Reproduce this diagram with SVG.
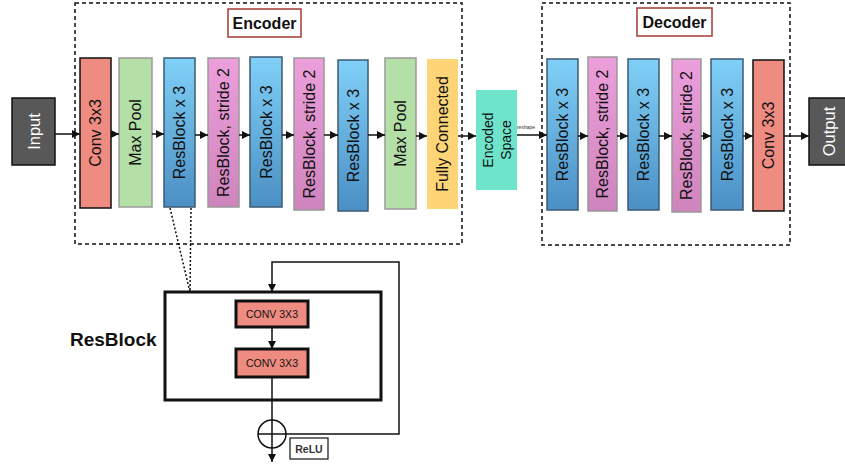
<svg xmlns="http://www.w3.org/2000/svg" width="845" height="467" viewBox="0 0 845 467">
<style>
text{font-family:"Liberation Sans",Arial,sans-serif;fill:#111}
.bt{font-size:16px;text-anchor:middle;dominant-baseline:central}
.wt{font-size:16.5px;text-anchor:middle;dominant-baseline:central;fill:#fff}
.dash{fill:none;stroke:#111;stroke-width:1.5;stroke-dasharray:4 3}
.lbl{fill:#fff;stroke:#a33a33;stroke-width:1.5}
.conv{fill:#ef8c82;stroke:#111;stroke-width:1.5}
.pool{fill:#b4dfa6;stroke:#9a9a9a;stroke-width:1.5}
.res{fill:url(#gb);stroke:#3d5a73;stroke-width:1.5}
.str{fill:url(#gp);stroke:#999;stroke-width:1.5}
.fc{fill:#fdd576}
.enc{fill:#6ee5cb}
.io{fill:#585858;stroke:#111;stroke-width:1.5}
.ln{fill:none;stroke:#111;stroke-width:1.5}
.dot{fill:none;stroke:#111;stroke-width:1.5;stroke-dasharray:2 2}
.rconv{fill:#ef8c82;stroke:#111;stroke-width:3}
</style>
<defs>
<linearGradient id="gb" x1="0" y1="0" x2="0" y2="1"><stop offset="0" stop-color="#80d0f8"/><stop offset="1" stop-color="#4b8fc4"/></linearGradient>
<linearGradient id="gp" x1="0" y1="0" x2="0" y2="1"><stop offset="0" stop-color="#ec9fdb"/><stop offset="1" stop-color="#d084bd"/></linearGradient>
<marker id="ah" markerUnits="userSpaceOnUse" markerWidth="9" markerHeight="9" refX="8" refY="4.5" orient="auto"><path d="M0,0.5 L8,4.5 L0,8.5 z" fill="#111"/></marker>
</defs>

<g id="encoder-frame">
<rect class="dash" x="75" y="3" width="387" height="241"/>
<rect class="lbl" x="228" y="9" width="73" height="28"/>
<text x="264.5" y="23" style="font-size:16px;font-weight:bold;text-anchor:middle;dominant-baseline:central">Encoder</text>
</g>
<g id="decoder-frame">
<rect class="dash" x="542" y="3" width="248" height="242"/>
<rect class="lbl" x="637" y="8" width="75" height="28"/>
<text x="674.5" y="22" style="font-size:16px;font-weight:bold;text-anchor:middle;dominant-baseline:central">Decoder</text>
</g>

<g id="input"><rect class="io" x="12" y="98" width="43" height="67"/><text class="wt" transform="translate(33.5,131.5) rotate(-90)">Input</text></g>
<g id="e-conv"><rect class="conv" x="80" y="58" width="31" height="150"/><text class="bt" transform="translate(95.5,133) rotate(-90)">Conv 3x3</text></g>
<g id="e-pool1"><rect class="pool" x="119" y="58" width="33" height="149"/><text class="bt" transform="translate(135.5,132.5) rotate(-90)">Max Pool</text></g>
<g id="e-res1"><rect class="res" x="164" y="58" width="31" height="149"/><text class="bt" transform="translate(179.5,132.5) rotate(-90)">ResBlock x 3</text></g>
<g id="e-str1"><rect class="str" x="208" y="58" width="31" height="149"/><text class="bt" transform="translate(223.5,132.5) rotate(-90)">ResBlock, stride 2</text></g>
<g id="e-res2"><rect class="res" x="250" y="57" width="32" height="150"/><text class="bt" transform="translate(266,132) rotate(-90)">ResBlock x 3</text></g>
<g id="e-str2"><rect class="str" x="294" y="58" width="30" height="152"/><text class="bt" transform="translate(309,134) rotate(-90)">ResBlock, stride 2</text></g>
<g id="e-res3"><rect class="res" x="338" y="60" width="30" height="151"/><text class="bt" transform="translate(353,135.5) rotate(-90)">ResBlock x 3</text></g>
<g id="e-pool2"><rect class="pool" x="385" y="58" width="31" height="151"/><text class="bt" transform="translate(400.5,133.5) rotate(-90)">Max Pool</text></g>
<g id="e-fc"><rect class="fc" x="427" y="59" width="31" height="150"/><text class="bt" transform="translate(442.5,134) rotate(-90)">Fully Connected</text></g>
<g id="encoded"><rect class="enc" x="476" y="90" width="41" height="100"/>
<text class="bt" style="font-size:14px" transform="translate(496.5,140) rotate(-90)"><tspan x="0" y="-9">Encoded</tspan><tspan x="0" y="9">Space</tspan></text></g>

<g id="d-res1"><rect class="res" x="547" y="59" width="31" height="151"/><text class="bt" transform="translate(562.5,134.5) rotate(-90)">ResBlock x 3</text></g>
<g id="d-str1"><rect class="str" x="588" y="57" width="29" height="154"/><text class="bt" transform="translate(602.5,134) rotate(-90)">ResBlock, stride 2</text></g>
<g id="d-res2"><rect class="res" x="628" y="59" width="31" height="151"/><text class="bt" transform="translate(643.5,134.5) rotate(-90)">ResBlock x 3</text></g>
<g id="d-str2"><rect class="str" x="672" y="59" width="29" height="153"/><text class="bt" transform="translate(686.5,135.5) rotate(-90)">ResBlock, stride 2</text></g>
<g id="d-res3"><rect class="res" x="711" y="59" width="32" height="151"/><text class="bt" transform="translate(727,134.5) rotate(-90)">ResBlock x 3</text></g>
<g id="d-conv"><rect class="conv" x="753" y="60" width="31" height="151"/><text class="bt" transform="translate(768.5,135.5) rotate(-90)">Conv 3x3</text></g>
<g id="output"><rect class="io" x="809" y="98" width="40" height="67"/><text class="wt" transform="translate(829,131.5) rotate(-90)">Output</text></g>

<g id="resblock">
<rect x="165" y="292" width="216" height="108" fill="none" stroke="#111" stroke-width="3"/>
<text x="70" y="339" style="font-size:19px;font-weight:bold;dominant-baseline:central">ResBlock</text>
<g id="r-conv1"><rect class="rconv" x="236" y="301" width="72" height="26"/><text x="272" y="314" style="font-size:10.5px;text-anchor:middle;dominant-baseline:central">CONV 3X3</text></g>
<g id="r-conv2"><rect class="rconv" x="236" y="349" width="72" height="28"/><text x="272" y="363" style="font-size:10.5px;text-anchor:middle;dominant-baseline:central">CONV 3X3</text></g>
<g id="r-add"><circle cx="272" cy="434" r="14" fill="none" stroke="#111" stroke-width="1.5"/><line class="ln" x1="258" y1="434" x2="286" y2="434"/></g>
<g id="r-relu"><rect x="290" y="438" width="38" height="21" fill="#fff" stroke="#111" stroke-width="1.2"/><text x="309" y="448.5" style="font-size:10.5px;font-weight:bold;text-anchor:middle;dominant-baseline:central;fill:#333">ReLU</text></g>
</g>

<g id="connectors">
<line class="ln" x1="55" y1="134" x2="80" y2="134" marker-end="url(#ah)"/>
<line class="ln" x1="111" y1="134" x2="119" y2="134" marker-end="url(#ah)"/>
<line class="ln" x1="152" y1="134" x2="164" y2="134" marker-end="url(#ah)"/>
<line class="ln" x1="195" y1="135" x2="208" y2="135" marker-end="url(#ah)"/>
<line class="ln" x1="239" y1="135" x2="250" y2="135" marker-end="url(#ah)"/>
<line class="ln" x1="282" y1="135" x2="294" y2="135" marker-end="url(#ah)"/>
<line class="ln" x1="324" y1="135" x2="338" y2="135" marker-end="url(#ah)"/>
<line class="ln" x1="368" y1="135" x2="385" y2="135" marker-end="url(#ah)"/>
<line class="ln" x1="416" y1="136" x2="427" y2="136" marker-end="url(#ah)"/>
<line class="ln" x1="458" y1="136" x2="476" y2="136" marker-end="url(#ah)"/>
<line class="ln" x1="517" y1="135" x2="547" y2="135" marker-end="url(#ah)"/>
<text x="526" y="129" style="font-size:5px;text-anchor:middle;fill:#333">reshape</text>
<line class="ln" x1="578" y1="136" x2="588" y2="136" marker-end="url(#ah)"/>
<line class="ln" x1="617" y1="136" x2="628" y2="136" marker-end="url(#ah)"/>
<line class="ln" x1="659" y1="136" x2="672" y2="136" marker-end="url(#ah)"/>
<line class="ln" x1="701" y1="136" x2="711" y2="136" marker-end="url(#ah)"/>
<line class="ln" x1="743" y1="136" x2="753" y2="136" marker-end="url(#ah)"/>
<line class="ln" x1="784" y1="136" x2="809" y2="136" marker-end="url(#ah)"/>
<line class="dot" x1="170" y1="208" x2="190" y2="292"/>
<line class="dot" x1="191" y1="208" x2="190" y2="292"/>
<line class="ln" x1="272" y1="327" x2="272" y2="349" marker-end="url(#ah)"/>
<line class="ln" x1="272" y1="377" x2="272" y2="462" marker-end="url(#ah)"/>
<polyline class="ln" points="286,434 399,434 399,262 272,262 272,292" marker-end="url(#ah)"/>
</g>
</svg>
